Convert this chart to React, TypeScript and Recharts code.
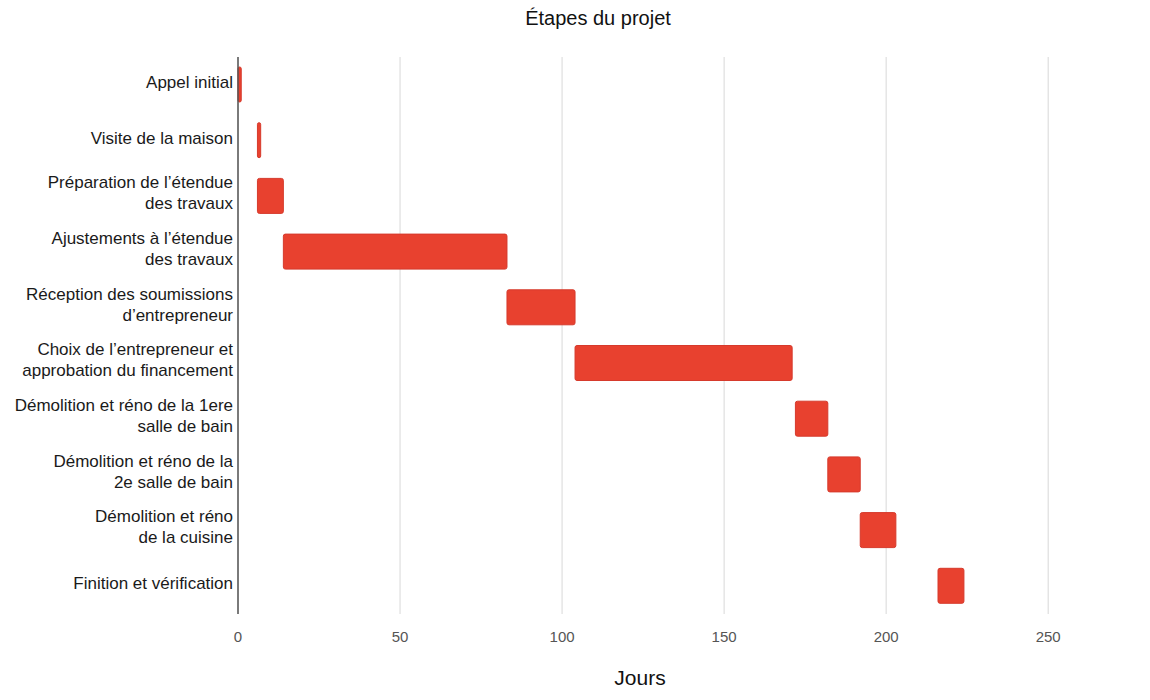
import { BarChart, Bar, XAxis, YAxis, CartesianGrid } from "recharts";

const TASKS = [
  "Appel initial",
  "Visite de la maison",
  "Préparation de l’étendue\ndes travaux",
  "Ajustements à l’étendue\ndes travaux",
  "Réception des soumissions\nd’entrepreneur",
  "Choix de l’entrepreneur et\napprobation du financement",
  "Démolition et réno de la 1ere\nsalle de bain",
  "Démolition et réno de la\n2e salle de bain",
  "Démolition et réno\nde la cuisine",
  "Finition et vérification",
];
const START_DAYS = [0, 6, 6, 14, 83, 104, 172, 182, 192, 216];
const END_DAYS = [1, 7, 14, 83, 104, 171, 182, 192, 203, 224];
const X_TICKS = [0, 50, 100, 150, 200, 250];

const rows = TASKS.map((task, i) => ({
  task,
  range: [START_DAYS[i], END_DAYS[i]],
}));

const FONT = '"Liberation Sans", Arial, Helvetica, sans-serif';

function TaskTick({ x, y, payload }: any) {
  const lines = String(payload.value).split("\n");
  const offsets = lines.length === 1 ? [-3] : [-14, 7];
  return (
    <text
      textAnchor="end"
      dominantBaseline="central"
      fontFamily={FONT}
      fontSize={17}
      fill="#1a1a1a"
    >
      {lines.map((line, i) => (
        <tspan key={i} x={x} y={y + offsets[i]}>
          {line}
        </tspan>
      ))}
    </text>
  );
}

export default function App() {
  return (
    <div
      style={{
        position: "absolute",
        left: 0,
        top: 0,
        width: 1150,
        height: 700,
        background: "#fff",
        fontFamily: FONT,
      }}
    >
      <div
        style={{
          position: "absolute",
          top: 7,
          left: 448,
          width: 300,
          textAlign: "center",
          fontSize: 20,
          color: "#111",
        }}
      >
        Étapes du projet
      </div>
      <BarChart
        width={1150}
        height={700}
        data={rows}
        layout="vertical"
        margin={{ top: 57, right: 37, bottom: 56, left: 0 }}
        barSize={35}
      >
        <CartesianGrid horizontal={false} stroke="#d8d8d8" syncWithTicks />
        <XAxis
          type="number"
          domain={[0, 270]}
          ticks={X_TICKS}
          height={30}
          tickLine={false}
          axisLine={false}
          tickSize={0}
          tickMargin={17}
          tick={{ fill: "#555", fontSize: 15, fontFamily: FONT }}
        />
        <YAxis
          type="category"
          dataKey="task"
          width={238}
          tickLine={false}
          tickSize={0}
          tickMargin={5}
          axisLine={{ stroke: "#555", strokeWidth: 1.5 }}
          tick={<TaskTick />}
          interval={0}
        />
        <Bar
          dataKey="range"
          fill="#e8412f"
          stroke="#d63a2c"
          strokeWidth={1}
          radius={2}
          isAnimationActive={false}
        />
      </BarChart>
      <div
        style={{
          position: "absolute",
          top: 666,
          left: 540,
          width: 200,
          textAlign: "center",
          fontSize: 21,
          color: "#111",
        }}
      >
        Jours
      </div>
    </div>
  );
}
